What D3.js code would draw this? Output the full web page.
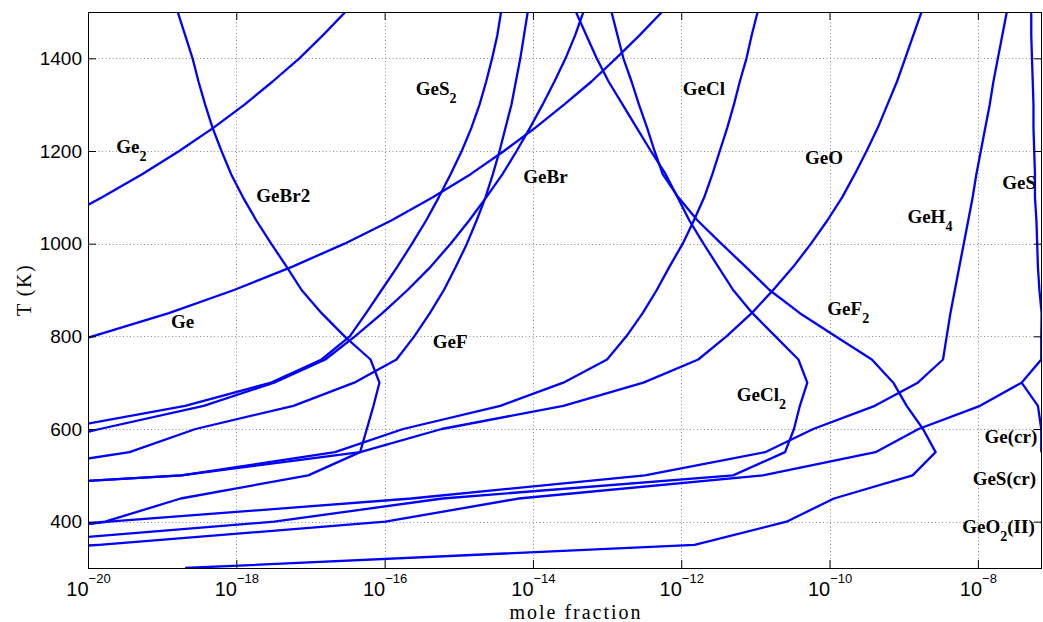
<!DOCTYPE html>
<html>
<head>
<meta charset="utf-8">
<script src="https://cdn.jsdelivr.net/npm/d3@7"></script>
<style>
  body { margin: 0; background: white; }
  svg { display: block; }
  .grid line { stroke: #8c8c8c; stroke-width: 1; stroke-dasharray: 1, 2.5; }
  .curve { fill: none; stroke: #0000ff; stroke-width: 2.3; stroke-linejoin: round; }
  .species { font-family: "Liberation Serif", "Times New Roman", serif; font-weight: bold; font-size: 19px; fill: #000; }
  .axis-title { font-family: "Liberation Serif", "Times New Roman", serif; font-size: 20px; fill: #000; }
</style>
</head>
<body>
<svg id="chart" width="1043" height="622"></svg>
<script>
// temperature grid (K) shared by every curve
const temperatures = [300, 350, 400, 450, 500, 550, 600, 650, 700, 750, 800, 850, 900,
  950, 1000, 1050, 1100, 1150, 1200, 1250, 1300, 1350, 1400, 1450, 1500];

// log10(mole fraction) at each temperature, null = no value
const ge2 = [null, null, null, null, null, null, null, null, null, null, null, null, null,
  null, null, -20.39, -19.81, -19.27, -18.77, -18.31, -17.89, -17.51, -17.15, -16.83, -16.53];
const ge = [null, null, null, null, null, null, null, null, null, -20.9, -19.94, -18.91, -18.03,
  -17.25, -16.54, -15.91, -15.35, -14.84, -14.39, -13.97, -13.58, -13.21, -12.88, -12.56, -12.26];
const geBr2 = [null, -22.7, -19.77, -18.75, -17.03, -16.33, -16.24, -16.15, -16.07, -16.19, -16.54, -16.85, -17.12,
  -17.32, -17.53, -17.73, -17.91, -18.07, -18.20, -18.32, -18.42, -18.51, -18.59, -18.69, -18.79];
const geF2 = [-18.69, -11.82, -10.58, -9.94, -8.88, -8.57, -8.74, -8.96, -9.14, -9.43, -9.92, -10.40, -10.81,
  -11.13, -11.46, -11.78, -12.04, -12.25, -12.36, -12.46, -12.57, -12.67, -12.78, -12.86, -12.94];
const geCl2 = [null, -21.32, -17.49, -15.22, -11.30, -10.60, -10.48, -10.40, -10.30, -10.42, -10.73, -11.04, -11.30,
  -11.50, -11.70, -11.89, -12.05, -12.21, -12.41, -12.60, -12.79, -12.98, -13.14, -13.28, -13.42];
const geCl = [null, null, null, -24, -18.74, -16.67, -15.75, -14.44, -13.59, -13.00, -12.74, -12.52, -12.33,
  -12.16, -11.98, -11.83, -11.69, -11.58, -11.48, -11.38, -11.29, -11.21, -11.12, -11.05, -10.97];
const geO = [null, null, null, -24, -18.74, -16.33, -15.23, -13.59, -12.51, -11.77, -11.39, -11.05, -10.76,
  -10.49, -10.25, -10.03, -9.83, -9.66, -9.50, -9.35, -9.22, -9.09, -8.98, -8.87, -8.76];
const geH4 = [null, -22.5, -19.72, -15.64, -12.49, -10.87, -10.22, -9.39, -8.81, -8.47, -8.42, -8.37, -8.31,
  -8.25, -8.19, -8.13, -8.07, -8.02, -7.96, -7.90, -7.84, -7.79, -7.73, -7.67, -7.61];
const geS = [-25, -19.85, -15.99, -14.19, -10.90, -9.38, -8.80, -7.97, -7.41, -7.145, -7.145, -7.14, -7.17,
  -7.19, -7.20, -7.21, -7.23, -7.23, -7.24, -7.25, -7.25, -7.26, -7.27, -7.28, -7.28];
const geCr = [null, null, null, null, null, -7.145, -7.145, -7.19, -7.41, null, null, null, null,
  null, null, null, null, null, null, null, null, null, null, null, null];
const geS2 = [null, null, null, null, null, null, -20.4, -18.69, -17.53, -16.85, -16.47, -16.25, -16.04,
  -15.83, -15.63, -15.44, -15.27, -15.11, -14.96, -14.83, -14.72, -14.63, -14.55, -14.48, -14.43];
const geBr = [null, null, null, null, null, -21.2, -19.84, -18.44, -17.49, -16.80, -16.40, -16.03, -15.69,
  -15.38, -15.11, -14.86, -14.63, -14.41, -14.22, -14.04, -13.87, -13.71, -13.56, -13.43, -13.32];
const geF = [null, null, null, null, -21.5, -19.44, -18.55, -17.23, -16.41, -15.84, -15.60, -15.39, -15.20,
  -15.04, -14.89, -14.76, -14.64, -14.54, -14.45, -14.37, -14.29, -14.23, -14.17, -14.12, -14.07];

const xTickExponents = [-20, -18, -16, -14, -12, -10, -8];
const yTicks = [400, 600, 800, 1000, 1200, 1400];

// species labels: [main text, subscript, trailing text]
const labelText = [
  ["Ge", "2", ""], ["GeBr2", "", ""], ["Ge", "", ""], ["GeS", "2", ""], ["GeBr", "", ""],
  ["GeF", "", ""], ["GeCl", "", ""], ["GeO", "", ""], ["GeH", "4", ""], ["GeS", "", ""],
  ["GeF", "2", ""], ["GeCl", "2", ""], ["Ge(cr)", "", ""], ["GeS(cr)", "", ""], ["GeO", "2", "(II)"]
];
// label anchors in data units: [log10 mole fraction, T]
const labelAt = [
  [-19.62, 1195], [-17.73, 1090], [-18.88, 817], [-15.58, 1321], [-14.13, 1130],
  [-15.35, 774], [-11.98, 1321], [-10.33, 1173], [-8.95, 1044], [-7.67, 1117],
  [-10.03, 846], [-11.25, 661], [-7.91, 569], [-8.07, 479], [-8.21, 375]
];

const series = [ge2, ge, geBr2, geF2, geCl2, geCl, geO, geH4, geS, geCr, geS2, geBr, geF];

const margin = { top: 12, right: 1, bottom: 54, left: 88 };
const width = 1043 - margin.left - margin.right;
const height = 622 - margin.top - margin.bottom;

const svg = d3.select("#chart");
const g = svg.append("g").attr("transform", `translate(${margin.left},${margin.top})`);

const x = d3.scaleLog().domain([1e-20, 10 ** -7.135]).range([0, width]);
const y = d3.scaleLinear().domain([300, 1500]).range([height, 0]);

g.append("defs")
  .append("clipPath")
  .attr("id", "clip")
  .append("rect")
  .attr("width", width)
  .attr("height", height);

// dotted grid
const grid = g.append("g").attr("class", "grid");
grid.selectAll(".gx")
  .data(xTickExponents.slice(1))
  .join("line")
  .attr("class", "gx")
  .attr("x1", d => Math.round(x(10 ** d)) + 0.5)
  .attr("x2", d => Math.round(x(10 ** d)) + 0.5)
  .attr("y1", 0)
  .attr("y2", height);
grid.selectAll(".gy")
  .data(yTicks)
  .join("line")
  .attr("class", "gy")
  .attr("x1", 0)
  .attr("x2", width)
  .attr("y1", d => Math.round(y(d)) + 0.5)
  .attr("y2", d => Math.round(y(d)) + 0.5);

// curves
const line = d3.line()
  .defined(d => d[1] != null)
  .x(d => x(10 ** d[1]))
  .y(d => y(d[0]));

g.append("g")
  .attr("clip-path", "url(#clip)")
  .selectAll("path")
  .data(series)
  .join("path")
  .attr("class", "curve")
  .attr("d", s => line(temperatures.map((t, i) => [t, s[i]])));

// axes, ticks pointing inward
const xTickVals = xTickExponents.map(e => 10 ** e);
const xg = g.append("g")
  .attr("transform", `translate(0,${height})`)
  .call(d3.axisBottom(x).tickValues(xTickVals).tickSize(-8).tickSizeOuter(0).tickPadding(0));
xg.selectAll(".tick text").each(function(d, i) {
  const t = d3.select(this)
    .text(null)
    .attr("y", 28)
    .attr("dy", null)
    .attr("font-family", "'Liberation Sans', Arial, sans-serif")
    .attr("font-size", 20)
    .attr("fill", "#000");
  t.append("tspan").text("10");
  t.append("tspan").attr("dy", -13).attr("font-size", 13).text("\u2212" + Math.abs(xTickExponents[i]));
});

g.append("g")
  .call(d3.axisTop(x).tickValues(xTickVals).tickSize(-8).tickSizeOuter(0).tickFormat(""));

g.append("g")
  .call(d3.axisLeft(y).tickValues(yTicks).tickSize(-8).tickSizeOuter(0).tickPadding(6).tickFormat(d3.format("d")))
  .selectAll(".tick text")
  .attr("font-family", "'Liberation Sans', Arial, sans-serif")
  .attr("font-size", 19)
  .attr("fill", "#000");

g.append("g")
  .attr("transform", `translate(${width},0)`)
  .call(d3.axisRight(y).tickValues(yTicks).tickSize(-8).tickSizeOuter(0).tickFormat(""));

g.selectAll(".domain").remove();

g.append("rect")
  .attr("x", 0.5)
  .attr("y", 0.5)
  .attr("width", width - 1)
  .attr("height", height)
  .attr("fill", "none")
  .attr("stroke", "#000")
  .attr("stroke-width", 1);

// species labels
const labels = g.append("g")
  .selectAll("text")
  .data(labelText)
  .join("text")
  .attr("class", "species")
  .attr("x", (d, i) => x(10 ** labelAt[i][0]))
  .attr("y", (d, i) => y(labelAt[i][1]));
labels.append("tspan").text(d => d[0]);
labels.filter(d => d[1])
  .append("tspan")
  .attr("dy", 8)
  .attr("font-size", 14)
  .text(d => d[1]);
labels.filter(d => d[2])
  .append("tspan")
  .attr("dy", -8)
  .text(d => d[2]);

// axis titles
svg.append("text")
  .attr("class", "axis-title")
  .attr("x", margin.left + width / 2 + 11)
  .attr("y", 619)
  .attr("text-anchor", "middle")
  .attr("letter-spacing", 2)
  .text("mole fraction");

svg.append("text")
  .attr("class", "axis-title")
  .attr("transform", `translate(31,${margin.top + height / 2}) rotate(-90)`)
  .attr("text-anchor", "middle")
  .attr("letter-spacing", 1.5)
  .text("T (K)");
</script>
</body>
</html>
